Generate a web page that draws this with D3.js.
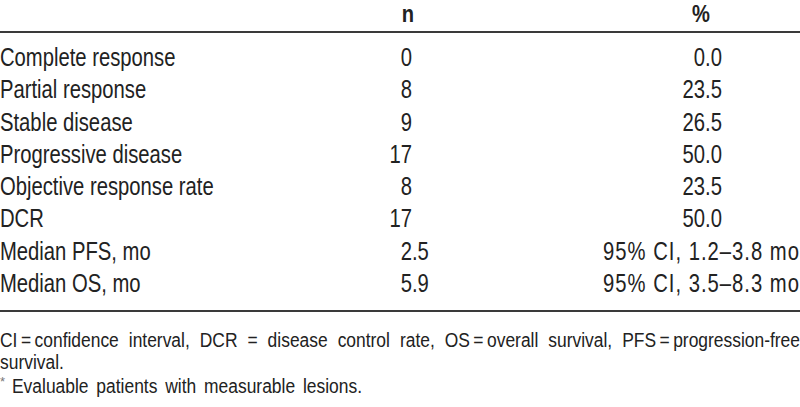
<!DOCTYPE html>
<html>
<head>
<meta charset="utf-8">
<script src="https://cdn.jsdelivr.net/npm/d3@7"></script>
<style>
  html, body { margin: 0; padding: 0; background: #fff; }
  svg text { font-family: "Liberation Sans", Arial, sans-serif; fill: #222; }
</style>
</head>
<body>
<svg id="chart" width="800" height="407"></svg>
<script>
// ---- data ----
const headers = ["", "n", "%"];
const categories = [
  "Complete response",
  "Partial response",
  "Stable disease",
  "Progressive disease",
  "Objective response rate",
  "DCR",
  "Median PFS, mo",
  "Median OS, mo"
];
const nValues = ["0", "8", "9", "17", "8", "17", "2.5", "5.9"];
const pctValues = ["0.0", "23.5", "26.5", "50.0", "23.5", "50.0", "95% CI, 1.2\u20133.8 mo", "95% CI, 3.5\u20138.3 mo"];
const footnoteLines = [
  "CI\u2009=\u2009confidence interval, DCR = disease control rate, OS\u2009=\u2009overall survival, PFS\u2009=\u2009progression-free",
  "survival."
];
const footnoteStar = "*";
const footnoteStarText = "Evaluable patients with measurable lesions.";

// ---- layout ----
const W = 800, H = 407;
const svg = d3.select("#chart");
const bodySize = 25, bodySx = 0.81;
const footSize = 21, footSx = 0.83;

const y = d3.scalePoint().domain(categories).range([66, 292]);
const colX = d3.scaleOrdinal().domain(headers).range([0, 412, 722]);

// condensed text helper (horizontal squeeze to imitate a condensed face)
function txt(g, x, yy, str, size, sx, anchor) {
  return g.append("text")
    .attr("transform", `translate(${x},${yy}) scale(${sx},1)`)
    .attr("text-anchor", anchor || "start")
    .style("font-size", size + "px")
    .text(str);
}

// header
txt(svg, 408, 22, headers[1], 24, 0.84, "middle").style("font-weight", "bold");
txt(svg, 701, 22, headers[2], 24, 0.84, "middle").style("font-weight", "bold");

// rules
svg.append("line").attr("x1", 0).attr("x2", W).attr("y1", 32).attr("y2", 32)
  .attr("stroke", "#3a3a3a").attr("stroke-width", 2);
svg.append("line").attr("x1", 0).attr("x2", W).attr("y1", 311).attr("y2", 311)
  .attr("stroke", "#3a3a3a").attr("stroke-width", 2);

// row labels
const catG = svg.append("g");
categories.forEach(c => txt(catG, colX(""), y(c), c, bodySize, bodySx));

// decimal-aligned numeric cell
function numCell(g, value, xDec, yy) {
  const parts = value.split(".");
  txt(g, xDec, yy, parts[0], bodySize, bodySx, "end");
  if (parts.length > 1) txt(g, xDec, yy, "." + parts[1], bodySize, bodySx, "start");
}

const nG = svg.append("g");
nValues.forEach((v, i) => numCell(nG, v, colX("n"), y(categories[i])));

const pG = svg.append("g");
pctValues.forEach((v, i) => {
  const yy = y(categories[i]);
  if (/^[0-9.]+$/.test(v)) {
    txt(pG, colX("%"), yy, v, bodySize, bodySx, "end");
  } else {
    const t = txt(pG, 603, yy, v, bodySize, bodySx, "start");
    t.attr("textLength", 196 / bodySx).attr("lengthAdjust", "spacing");
  }
});

// footnotes
const fG = svg.append("g");
const f1 = txt(fG, 0, 347, footnoteLines[0], footSize, footSx);
const len = f1.node().getComputedTextLength();
const nSpaces = (footnoteLines[0].match(/ /g) || []).length;
if (nSpaces > 0 && len < W / footSx) f1.style("word-spacing", ((W / footSx - len) / nSpaces) + "px");
else if (len > W / footSx) f1.attr("textLength", W / footSx).attr("lengthAdjust", "spacingAndGlyphs");

txt(fG, 0, 369, footnoteLines[1], footSize, footSx);

txt(fG, 0, 386, footnoteStar, 13, 1).style("fill", "#777");
const f3 = txt(fG, 12, 393, footnoteStarText, footSize, footSx);
const len3 = f3.node().getComputedTextLength();
const sp3 = (footnoteStarText.match(/ /g) || []).length;
const target3 = 350 / footSx;
if (len3 < target3) f3.style("word-spacing", ((target3 - len3) / sp3) + "px");
</script>
</body>
</html>
